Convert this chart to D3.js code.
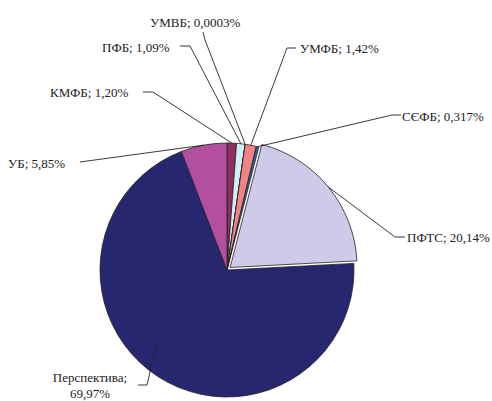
<!DOCTYPE html>
<html>
<head>
<meta charset="utf-8">
<script src="https://cdn.jsdelivr.net/npm/d3@7"></script>
<style>
  body { margin: 0; background: #fff; }
  .label { font-family: "Liberation Serif", "Times New Roman", serif; font-size: 13px; fill: #222; }
  .leader { fill: none; stroke: #222; stroke-width: 0.9; }
</style>
</head>
<body>
<svg id="chart" width="492" height="401"></svg>
<script>
const categories = ["КМФБ", "ПФБ", "УМВБ", "УМФБ", "СЄФБ", "ПФТС", "Перспектива", "УБ"];
const values = [1.20, 1.09, 0.0003, 1.42, 0.317, 20.14, 69.97, 5.85];
const valueLabels = ["1,20%", "1,09%", "0,0003%", "1,42%", "0,317%", "20,14%", "69,97%", "5,85%"];
const colors = ["#8e2f60", "#d3eef5", "#5a1f5a", "#f28383", "#2262b0", "#cdcbe8", "#272770", "#b24f9f"];

const cx = 227, cy = 270, radius = 127;

// label placement: text box start x, centre y, leader bend points
const labelLayout = {
  "КМФБ":        { x: 50,  y: 92,  anchor: "start", path: [[143, 92], [153, 92]] },
  "ПФБ":         { x: 102, y: 47,  anchor: "start", path: [[180, 46], [190, 46]] },
  "УМВБ":        { x: 150, y: 22,  anchor: "start", path: [[203, 32], [205, 40]] },
  "УМФБ":        { x: 300, y: 48,  anchor: "start", path: [[296, 48], [287, 48]] },
  "СЄФБ":        { x: 402, y: 116, anchor: "start", path: [[401, 115], [392, 115]] },
  "ПФТС":        { x: 407, y: 237, anchor: "start", path: [[405, 237], [395, 237]] },
  "Перспектива": { x: 90,  y: 377, anchor: "middle", path: [[138, 385], [147, 385]], reach: 0.8, shift: 0.19 },
  "УБ":          { x: 8,   y: 163, anchor: "start", path: [[80, 162]] }
};

const exploded = "ПФТС";
const explodeBy = 4;

const svg = d3.select("#chart");
const chart = svg.append("g").attr("transform", `translate(${cx}, ${cy})`);

const data = categories.map((c, i) => ({ name: c, value: values[i], label: valueLabels[i], color: colors[i] }));

const pie = d3.pie().sort(null).value(d => d.value).startAngle(0).endAngle(2 * Math.PI);
const arc = d3.arc().innerRadius(0).outerRadius(radius);
const arcs = pie(data);

const mid = a => (a.startAngle + a.endAngle) / 2;
const polar = (ang, r) => [Math.sin(ang) * r, -Math.cos(ang) * r];
const offsetOf = a => a.data.name === exploded ? polar(mid(a), explodeBy) : [0, 0];

chart.selectAll("path.slice")
  .data(arcs)
  .enter()
  .append("path")
  .attr("class", "slice")
  .attr("d", arc)
  .attr("transform", a => `translate(${offsetOf(a)[0]}, ${offsetOf(a)[1]})`)
  .attr("fill", a => a.data.color)
  .attr("stroke", "#222")
  .attr("stroke-width", 0.8)
  .attr("stroke-linejoin", "round");

// leader lines
const line = d3.line();
arcs.forEach(a => {
  const lay = labelLayout[a.data.name];
  const off = offsetOf(a);
  const p = polar(mid(a) + (lay.shift || 0), radius * (lay.reach || 1));
  const end = [cx + p[0] + off[0], cy + p[1] + off[1]];
  svg.append("path")
    .attr("class", "leader")
    .attr("d", line([...lay.path, end]));
});

// labels
arcs.forEach(a => {
  const lay = labelLayout[a.data.name];
  const t = svg.append("text")
    .attr("class", "label")
    .attr("text-anchor", lay.anchor)
    .attr("x", lay.x)
    .attr("y", lay.y)
    .attr("dy", "0.35em");
  if (a.data.name === "Перспектива") {
    t.append("tspan").attr("x", lay.x).text(a.data.name + ";");
    t.append("tspan").attr("x", lay.x).attr("dy", "1.3em").text(a.data.label);
  } else {
    t.text(`${a.data.name}; ${a.data.label}`);
  }
});
</script>
</body>
</html>
